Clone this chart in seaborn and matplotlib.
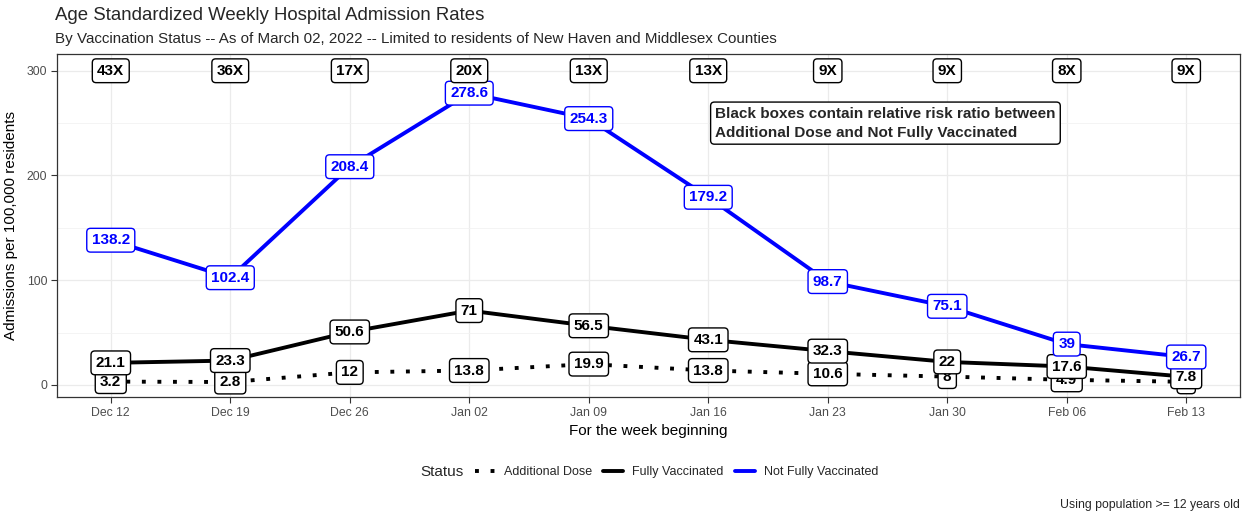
# Weekly hospital admission rates by vaccination status
import pandas as pd
import matplotlib
matplotlib.use('Agg')
import matplotlib.pyplot as plt
import matplotlib.dates as mdates
from matplotlib.ticker import MultipleLocator
from matplotlib.lines import Line2D
import seaborn as sns

# ---------------------------------------------------------------------------
# Data
weeks = ['2021-12-12', '2021-12-19', '2021-12-26', '2022-01-02', '2022-01-09',
         '2022-01-16', '2022-01-23', '2022-01-30', '2022-02-06', '2022-02-13']
additional_dose = [3.2, 2.8, 12, 13.8, 19.9, 13.8, 10.6, 8, 4.9, 3]
fully_vaccinated = [21.1, 23.3, 50.6, 71, 56.5, 43.1, 32.3, 22, 17.6, 7.8]
not_fully_vaccinated = [138.2, 102.4, 208.4, 278.6, 254.3, 179.2, 98.7, 75.1, 39, 26.7]
ratio_labels = ['43X', '36X', '17X', '20X', '13X', '13X', '9X', '9X', '8X', '9X']
ratio_y = 300
statuses = ['Additional Dose', 'Fully Vaccinated', 'Not Fully Vaccinated']
colors = {'Additional Dose': 'black', 'Fully Vaccinated': 'black', 'Not Fully Vaccinated': 'blue'}

dates = pd.to_datetime(weeks)
df = pd.DataFrame({
    'week': list(dates) * 3,
    'Status': [s for s in statuses for _ in weeks],
    'rate': additional_dose + fully_vaccinated + not_fully_vaccinated,
})

# ---------------------------------------------------------------------------
sns.set_theme(style='white')
plt.rcParams['font.family'] = ['Liberation Sans', 'DejaVu Sans']

fig = plt.figure(figsize=(12.52, 5.18), dpi=100)
ax = fig.add_axes([57 / 1252, 1 - 397 / 518, (1240 - 57) / 1252, (397 - 54) / 518])

sns.lineplot(data=df, x='week', y='rate', hue='Status', style='Status',
             palette=colors, dashes={'Additional Dose': (1, 3),
                                     'Fully Vaccinated': '',
                                     'Not Fully Vaccinated': ''},
             linewidth=2.8, legend=False, ax=ax, zorder=3)
for line in ax.get_lines():
    line.set_dash_capstyle('butt')

# value labels (drawn in status order so later boxes sit on top)
box = dict(boxstyle='round,pad=0.32,rounding_size=0.25', fc='white', lw=1)
z = 4
for status in statuses:
    sub = df[df['Status'] == status]
    c = colors[status]
    for d, v in zip(sub['week'], sub['rate']):
        ax.text(d, v, f'{v:g}', ha='center', va='center', fontsize=11,
                fontweight='bold', color=c, zorder=z, bbox=dict(box, ec=c))
    z += 1

# relative risk ratio labels along the top
for d, lab in zip(dates, ratio_labels):
    ax.text(d, ratio_y, lab, ha='center', va='center', fontsize=11,
            fontweight='bold', color='black', zorder=8, bbox=dict(box, ec='black'))

ax.annotate('Black boxes contain relative risk ratio between\nAdditional Dose and Not Fully Vaccinated',
            xy=(dates[5], 250), xytext=(5, 0), textcoords='offset points',
            ha='left', va='center', fontsize=11, fontweight='bold',
            linespacing=1.45, zorder=8,
            bbox=dict(boxstyle='round,pad=0.3,rounding_size=0.25',
                      fc='white', ec='black', lw=1))

# axes, scales and grid
span = dates[-1] - dates[0]
ax.set_xlim(dates[0] - span * 0.05, dates[-1] + span * 0.05)
ax.set_ylim(-11.5, 316)
ax.set_xticks(dates)
ax.xaxis.set_major_formatter(mdates.DateFormatter('%b %d'))
ax.yaxis.set_major_locator(MultipleLocator(100))
ax.yaxis.set_minor_locator(MultipleLocator(50))
ax.grid(which='major', color='#EBEBEB', lw=0.9, zorder=0)
ax.grid(which='minor', axis='y', color='#F2F2F2', lw=0.6, zorder=0)
ax.set_axisbelow(True)
for sp in ax.spines.values():
    sp.set_color('#333333')
    sp.set_linewidth(0.9)
ax.tick_params(axis='both', which='major', length=4, width=0.8, color='#333333',
               labelcolor='#4D4D4D', labelsize=8.8, pad=3, bottom=True, left=True)
ax.tick_params(axis='y', which='minor', length=0)

ax.set_xlabel('For the week beginning', fontsize=11, color='black', labelpad=4)
ax.set_ylabel('Admissions per 100,000 residents', fontsize=11, color='black', labelpad=6)

# titles
fig.text(55 / 1252, 1 - 16 / 518, 'Age Standardized Weekly Hospital Admission Rates',
         fontsize=13.4, va='center', ha='left')
fig.text(55 / 1252, 1 - 39 / 518,
         'By Vaccination Status -- As of March 02, 2022 -- Limited to residents of New Haven and Middlesex Counties',
         fontsize=10.9, va='center', ha='left')

# legend at the bottom
fig.text(420 / 1252, 1 - 472 / 518, 'Status', fontsize=11, va='center', ha='left')
handles = [Line2D([], [], color=colors[s], lw=2.8,
                  dashes=(1, 3) if s == 'Additional Dose' else (None, None),
                  dash_capstyle='butt') for s in statuses]
fig.legend(handles, statuses, loc='center left',
           bbox_to_anchor=(470 / 1252, 1 - 472 / 518), ncol=3, frameon=False,
           fontsize=9, handlelength=1.6, handletextpad=0.75, columnspacing=0.85,
           borderaxespad=0)

fig.text(1240 / 1252, 1 - 505 / 518, 'Using population >= 12 years old',
         fontsize=8.8, va='center', ha='right')

fig.savefig('out.png', dpi=100)
